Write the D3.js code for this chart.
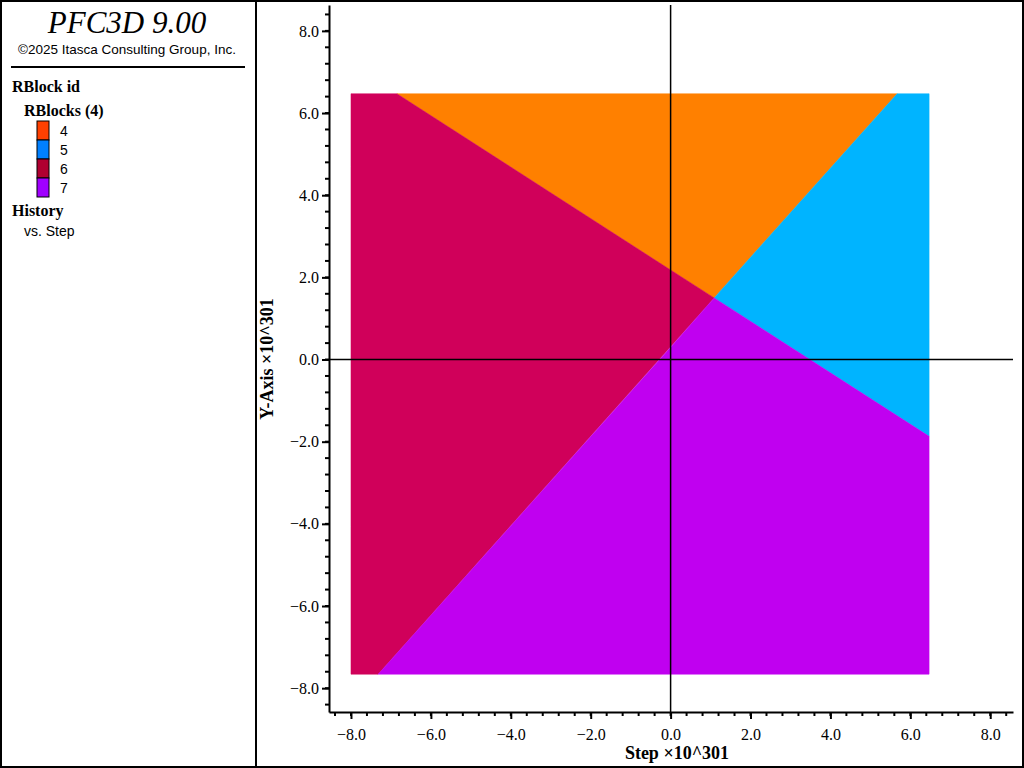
<!DOCTYPE html>
<html><head><meta charset="utf-8">
<script src="https://cdn.jsdelivr.net/npm/d3@7"></script>
<style>body{margin:0;background:#fff}svg{display:block}</style>
</head><body>
<svg id="c" width="1024" height="768"></svg>
<script>
var blockIds = ["4", "5", "6", "7"];
var legendColors = ["#ff4000", "#0080ff", "#b00030", "#a000ff"];
var fillColors = ["#ff8000", "#00b4ff", "#d0005a", "#c000f0"];
var blockPolys = [
  [[-6.85,6.47],[5.67,6.47],[1.09,1.5],[0,2.18]],
  [[5.67,6.47],[6.47,6.47],[6.47,-1.87],[1.09,1.5]],
  [[-8,6.47],[-6.85,6.47],[0,2.18],[1.09,1.5],[-7.32,-7.66],[-8,-7.66]],
  [[1.09,1.5],[6.47,-1.87],[6.47,-7.66],[-7.32,-7.66],[0,0.3]]
];
var tickVals = [-8,-6,-4,-2,0,2,4,6,8];

var svg = d3.select("#c");
var serif = "'Liberation Serif', 'Times New Roman', serif";
var sans = "'Liberation Sans', Arial, sans-serif";

var x = d3.scaleLinear().domain([-8.55, 8.57]).range([329, 1013]);
var y = d3.scaleLinear().domain([-8.58, 8.63]).range([712, 5]);

// frame
svg.append("rect").attr("x",1).attr("y",1).attr("width",1022).attr("height",766)
  .attr("fill","none").attr("stroke","#000").attr("stroke-width",2);
svg.append("line").attr("x1",256).attr("x2",256).attr("y1",0).attr("y2",768)
  .attr("stroke","#000").attr("stroke-width",2);

// side panel
svg.append("text").attr("x",127).attr("y",33).attr("text-anchor","middle")
  .attr("font-family",serif).attr("font-style","italic").attr("font-size",31).text("PFC3D 9.00");
svg.append("text").attr("x",127).attr("y",54).attr("text-anchor","middle")
  .attr("font-family",sans).attr("font-size",13.5).text("\u00a92025 Itasca Consulting Group, Inc.");
svg.append("line").attr("x1",11).attr("x2",245).attr("y1",67).attr("y2",67).attr("stroke","#000").attr("stroke-width",2);
svg.append("text").attr("x",12).attr("y",92).attr("font-family",serif).attr("font-weight","bold").attr("font-size",16).text("RBlock id");
svg.append("text").attr("x",24).attr("y",116).attr("font-family",serif).attr("font-weight","bold").attr("font-size",16).text("RBlocks (4)");
var leg = svg.append("g");
blockIds.forEach(function(id,i){
  leg.append("rect").attr("x",37).attr("y",121+i*19).attr("width",12).attr("height",19)
    .attr("fill",legendColors[i]).attr("stroke","#000").attr("stroke-width",1);
  leg.append("text").attr("x",60).attr("y",136+i*19).attr("font-family",sans).attr("font-size",14).text(id);
});
svg.append("text").attr("x",12).attr("y",216).attr("font-family",serif).attr("font-weight","bold").attr("font-size",16).text("History");
svg.append("text").attr("x",24).attr("y",236).attr("font-family",sans).attr("font-size",14).text("vs. Step");

// blocks
var line = d3.line().x(function(d){return x(d[0]);}).y(function(d){return y(d[1]);});
svg.append("g").selectAll("path").data(blockPolys).join("path")
  .attr("d",function(d){return line(d)+"Z";})
  .attr("fill",function(d,i){return fillColors[i];})
  .attr("stroke",function(d,i){return fillColors[i];}).attr("stroke-width",0.5);

// crosshair
svg.append("line").attr("x1",x(0)).attr("x2",x(0)).attr("y1",5).attr("y2",712).attr("stroke","#000").attr("stroke-width",1.5);
svg.append("line").attr("x1",329).attr("x2",1013).attr("y1",y(0)).attr("y2",y(0)).attr("stroke","#000").attr("stroke-width",1.5);

// axes
var minor = d3.range(-8.4, 8.5, 0.4);
var xa = svg.append("g").attr("transform","translate(0,712)")
  .call(d3.axisBottom(x).tickValues(tickVals).tickFormat(d3.format(".1f")).tickSize(7).tickSizeOuter(0));
var ya = svg.append("g").attr("transform","translate(329,0)")
  .call(d3.axisLeft(y).tickValues(tickVals).tickFormat(d3.format(".1f")).tickSize(7).tickSizeOuter(0));
[xa, ya].forEach(function(a){
  a.select(".domain").attr("stroke-width",2);
  a.selectAll("line").attr("stroke-width",2);
  a.selectAll("text").attr("font-family",serif).attr("font-size",16);
});
xa.selectAll("text").attr("dy","1.1em");
xa.selectAll(".minor").data(minor).join("line").attr("x1",function(d){return x(d);}).attr("x2",function(d){return x(d);})
  .attr("y1",0).attr("y2",4).attr("stroke","#000").attr("stroke-width",2);
ya.selectAll(".minor").data(minor).join("line").attr("y1",function(d){return y(d);}).attr("y2",function(d){return y(d);})
  .attr("x1",0).attr("x2",-4).attr("stroke","#000").attr("stroke-width",2);

svg.append("text").attr("x",677).attr("y",759).attr("text-anchor","middle")
  .attr("font-family",serif).attr("font-weight","bold").attr("font-size",18).text("Step \u00d710^301");
svg.append("text").attr("transform","translate(273,359) rotate(-90)").attr("text-anchor","middle")
  .attr("font-family",serif).attr("font-weight","bold").attr("font-size",18).text("Y-Axis \u00d710^301");
</script>
</body></html>
